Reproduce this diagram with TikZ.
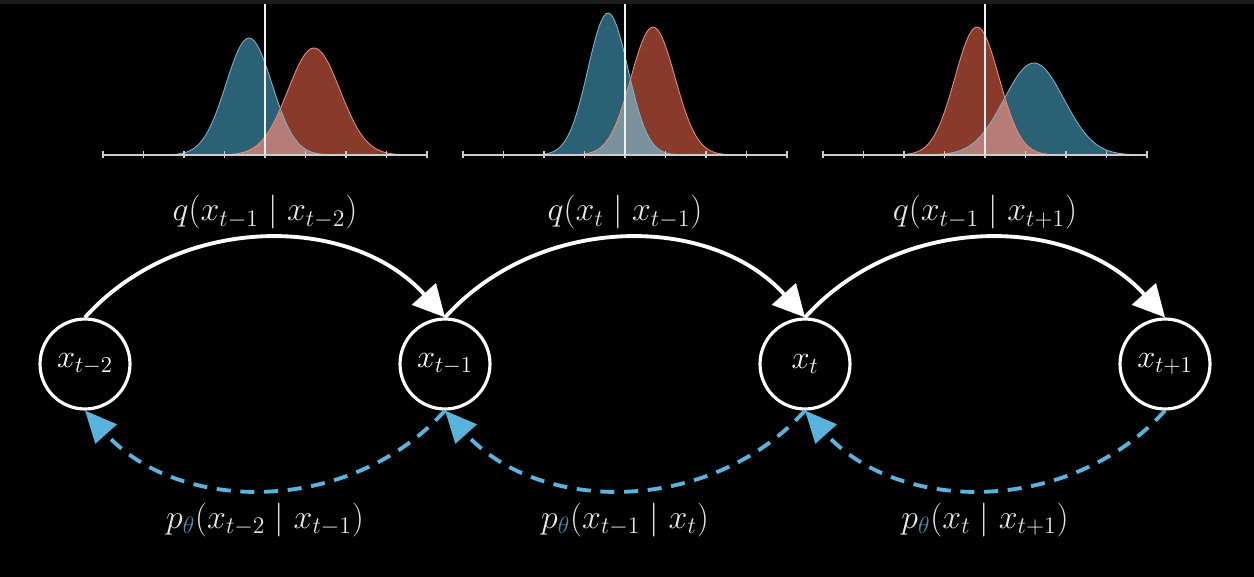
\documentclass[tikz,border=0pt]{standalone}
\usepackage{fix-cm}
\usepackage{amsmath}
\usepackage{amssymb}
\usetikzlibrary{arrows.meta}
\definecolor{qblue}{RGB}{43,97,116}
\definecolor{qbluel}{RGB}{120,180,198}
\definecolor{qred}{RGB}{138,58,42}
\definecolor{qredl}{RGB}{226,140,122}
\definecolor{ovred}{RGB}{184,124,118}
\definecolor{ovblue}{RGB}{122,146,156}
\definecolor{pblue}{RGB}{88,180,220}
\definecolor{thetablue}{RGB}{74,143,176}
\definecolor{lgray}{RGB}{232,232,232}
\definecolor{axgray}{RGB}{205,205,205}
\definecolor{topbar}{RGB}{28,28,28}

\begin{document}
\begin{tikzpicture}[x=0.02cm, y=-0.02cm,
	state/.style={draw=white, circle, line width=1.8pt, minimum size=1.8cm, inner sep=0pt, text=white, font=\fontsize{18.5}{22}\selectfont},
	fwd/.style={draw=white, line width=2.2pt, -{Triangle[length=18pt, width=18pt]}, bend left=48},
	rev/.style={draw=pblue, line width=2.2pt, dash pattern=on 8pt off 5.5pt, -{Triangle[length=18pt, width=16pt]}, bend left=48},
	lbl/.style={text=lgray, anchor=base, font=\fontsize{19.3}{23}\selectfont},
	axisline/.style={draw=axgray, line width=0.9pt}]
				\fill[black] (0,0) rectangle (1254,577);
				\fill[topbar] (0,0) rectangle (1254,4);
				\foreach \cx/\bmu/\bamp/\bsig/\rmu/\ramp/\rsig/\ov in {265/249/117/23/314/107/26/ovred, 625/608/142/20/653/128/22/ovblue, 985/1034/92/30/977/128/22/ovred}{
					\fill[qblue] plot[domain=\cx-162:\cx+162, samples=121] (\x, {155-\bamp*exp(-min(9, 0.5*((\x-\bmu)/\bsig)^2))});
					\fill[qred] plot[domain=\cx-162:\cx+162, samples=121] (\x, {155-\ramp*exp(-min(9, 0.5*((\x-\rmu)/\rsig)^2))});
					\fill[\ov] plot[domain=\cx-162:\cx+162, samples=121] (\x, {155-min(\bamp*exp(-min(9, 0.5*((\x-\bmu)/\bsig)^2)), \ramp*exp(-min(9, 0.5*((\x-\rmu)/\rsig)^2)))});
					\draw[qbluel, line width=0.5pt] plot[domain=\cx-162:\cx+162, samples=121] (\x, {155-\bamp*exp(-min(9, 0.5*((\x-\bmu)/\bsig)^2))});
					\draw[qredl, line width=0.5pt] plot[domain=\cx-162:\cx+162, samples=121] (\x, {155-\ramp*exp(-min(9, 0.5*((\x-\rmu)/\rsig)^2))});
					\draw[axisline] (\cx-162,155) -- (\cx+162,155);
					\foreach \k in {0,...,8}
						\draw[axisline] (\cx-162+40.5*\k,151.5) -- ++(0,7);
					\draw[white!90!gray, line width=0.8pt] (\cx,4) -- (\cx,155);
				}
				\node[state] (Xa)at(85, 364) {$x_{t-2}$};
				\node[state] (Xb)at(445, 364) {$x_{t-1}$};
				\node[state] (Xc)at(805, 364) {$x_t$};
				\node[state] (Xd)at(1165, 364) {$x_{t+1}$};
				\draw[fwd] (Xa.north) to (Xb.north);
				\draw[fwd] (Xb.north) to (Xc.north);
				\draw[fwd] (Xc.north) to (Xd.north);
				\draw[rev] (Xb.south) to (Xa.south);
				\draw[rev] (Xc.south) to (Xb.south);
				\draw[rev] (Xd.south) to (Xc.south);
				\node[lbl] (qa)at(265, 221) {$q(x_{t-1} \mid x_{t-2})$};
				\node[lbl] (qb)at(625, 221) {$q(x_t \mid x_{t-1})$};
				\node[lbl] (qc)at(985, 221) {$q(x_{t-1} \mid x_{t+1})$};
				\node[lbl] (pa)at(265, 528) {$p_{\color{thetablue}\theta}(x_{t-2} \mid x_{t-1})$};
				\node[lbl] (pb)at(625, 528) {$p_{\color{thetablue}\theta}(x_{t-1} \mid x_t)$};
				\node[lbl] (pc)at(985, 528) {$p_{\color{thetablue}\theta}(x_t \mid x_{t+1})$};
			\end{tikzpicture}
\end{document}
